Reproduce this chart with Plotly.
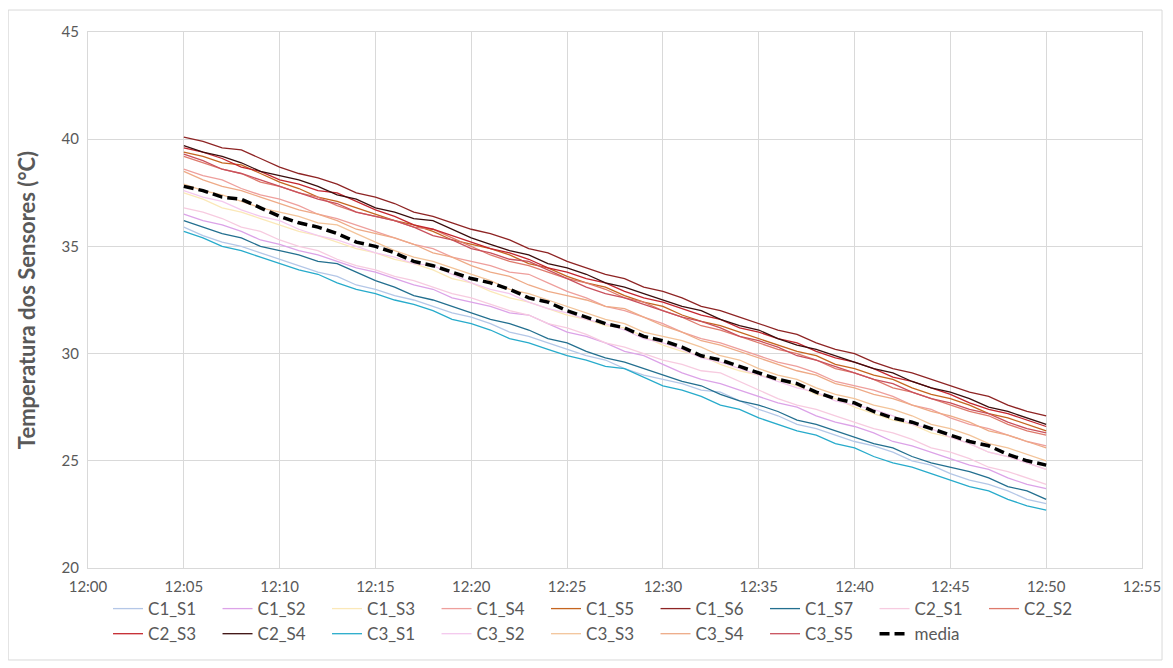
import pandas as pd
import plotly.graph_objects as go

# ---- data -------------------------------------------------------------
times = pd.date_range("2024-01-01 12:05", periods=46, freq="min")

C1_S1 = [35.9, 35.5, 35.2, 35.0, 34.7, 34.4, 34.1, 33.8, 33.6, 33.2, 33.0, 32.7, 32.5, 32.2, 31.9, 31.7,
         31.4, 31.0, 30.8, 30.5, 30.2, 29.9, 29.7, 29.3, 29.0, 28.8, 28.6, 28.3, 28.2, 27.8, 27.4, 27.1,
         26.7, 26.5, 26.2, 25.9, 25.7, 25.4, 25.0, 24.8, 24.4, 24.1, 23.9, 23.6, 23.2, 23.0]
C1_S2 = [36.5, 36.2, 36.0, 35.7, 35.3, 35.1, 34.8, 34.6, 34.3, 34.0, 33.8, 33.5, 33.2, 33.0, 32.6, 32.4,
         32.2, 31.9, 31.8, 31.4, 31.0, 30.8, 30.5, 30.1, 29.9, 29.5, 29.1, 28.8, 28.6, 28.3, 28.0, 27.7,
         27.5, 27.1, 26.8, 26.6, 26.3, 25.9, 25.7, 25.4, 25.1, 24.8, 24.6, 24.2, 23.9, 23.7]
C1_S3 = [37.5, 37.2, 36.8, 36.6, 36.3, 36.0, 35.7, 35.5, 35.2, 34.9, 34.7, 34.4, 34.2, 33.9, 33.5, 33.3,
         32.9, 32.6, 32.4, 32.1, 31.8, 31.6, 31.3, 31.2, 30.8, 30.4, 30.1, 29.9, 29.5, 29.2, 29.0, 28.8,
         28.5, 28.1, 27.9, 27.5, 27.2, 26.9, 26.7, 26.3, 26.1, 25.8, 25.4, 25.2, 24.9, 24.6]
C1_S4 = [38.6, 38.3, 38.1, 37.7, 37.4, 37.2, 36.9, 36.5, 36.3, 36.0, 35.7, 35.4, 35.1, 34.9, 34.5, 34.3,
         34.1, 33.8, 33.7, 33.3, 32.9, 32.6, 32.2, 32.0, 31.7, 31.4, 31.0, 30.7, 30.5, 30.2, 29.9, 29.6,
         29.4, 29.1, 28.7, 28.5, 28.3, 28.0, 27.6, 27.4, 27.0, 26.7, 26.5, 26.2, 25.9, 25.7]
C1_S5 = [39.4, 39.2, 38.9, 38.8, 38.4, 38.0, 37.7, 37.3, 37.1, 36.8, 36.5, 36.2, 36.0, 35.7, 35.3, 35.1,
         34.9, 34.6, 34.2, 34.0, 33.6, 33.3, 33.1, 32.7, 32.4, 32.2, 31.8, 31.5, 31.3, 31.0, 30.7, 30.4,
         30.1, 29.9, 29.5, 29.3, 29.0, 28.8, 28.4, 28.1, 27.9, 27.6, 27.2, 27.0, 26.7, 26.4]
C1_S6 = [40.1, 39.9, 39.6, 39.5, 39.1, 38.7, 38.4, 38.2, 37.9, 37.5, 37.3, 37.0, 36.6, 36.4, 36.1, 35.8,
         35.6, 35.3, 34.9, 34.7, 34.3, 34.0, 33.7, 33.5, 33.1, 32.9, 32.6, 32.2, 32.0, 31.7, 31.4, 31.1,
         30.9, 30.5, 30.2, 30.0, 29.6, 29.3, 29.1, 28.8, 28.5, 28.2, 28.0, 27.6, 27.3, 27.1]
C1_S7 = [36.2, 35.9, 35.6, 35.4, 35.0, 34.8, 34.6, 34.3, 34.2, 33.8, 33.4, 33.1, 32.7, 32.5, 32.2, 31.9,
         31.6, 31.4, 31.1, 30.7, 30.5, 30.1, 29.8, 29.6, 29.3, 29.0, 28.7, 28.5, 28.1, 27.8, 27.6, 27.3,
         26.9, 26.7, 26.4, 26.1, 25.8, 25.6, 25.2, 24.9, 24.7, 24.5, 24.2, 23.8, 23.6, 23.2]
C2_S1 = [36.8, 36.6, 36.3, 35.9, 35.7, 35.3, 35.0, 34.8, 34.4, 34.1, 33.9, 33.6, 33.4, 33.1, 32.8, 32.6,
         32.3, 32.0, 31.8, 31.4, 31.2, 30.9, 30.5, 30.3, 30.0, 29.7, 29.5, 29.2, 29.1, 28.7, 28.3, 27.9,
         27.6, 27.4, 27.1, 26.8, 26.5, 26.3, 26.0, 25.6, 25.4, 25.1, 24.7, 24.5, 24.2, 23.9]
C2_S2 = [39.2, 38.9, 38.6, 38.4, 38.0, 37.8, 37.5, 37.3, 36.9, 36.6, 36.4, 36.2, 35.9, 35.8, 35.4, 35.0,
         34.6, 34.3, 34.1, 33.8, 33.5, 33.3, 33.0, 32.6, 32.4, 32.0, 31.7, 31.3, 31.1, 30.8, 30.5, 30.2,
         30.0, 29.7, 29.3, 29.1, 28.8, 28.4, 28.2, 27.9, 27.6, 27.3, 27.1, 26.7, 26.4, 26.2]
C2_S3 = [39.6, 39.4, 39.1, 38.7, 38.5, 38.1, 37.9, 37.6, 37.5, 37.1, 36.7, 36.4, 36.0, 35.8, 35.5, 35.2,
         34.9, 34.7, 34.4, 34.0, 33.8, 33.5, 33.3, 32.9, 32.6, 32.4, 32.1, 31.8, 31.6, 31.2, 31.0, 30.7,
         30.5, 30.1, 29.8, 29.6, 29.3, 28.9, 28.7, 28.4, 28.1, 27.7, 27.4, 27.2, 26.9, 26.6]
C2_S4 = [39.7, 39.4, 39.2, 38.9, 38.5, 38.3, 38.1, 37.8, 37.4, 37.2, 36.8, 36.6, 36.3, 36.2, 35.8, 35.4,
         35.1, 34.8, 34.6, 34.2, 34.0, 33.7, 33.3, 33.1, 32.8, 32.5, 32.2, 32.0, 31.6, 31.3, 31.1, 30.7,
         30.4, 30.2, 29.9, 29.6, 29.3, 29.1, 28.7, 28.4, 28.2, 27.9, 27.5, 27.3, 27.0, 26.7]
C3_S1 = [35.7, 35.4, 35.0, 34.8, 34.5, 34.2, 33.9, 33.7, 33.3, 33.0, 32.8, 32.5, 32.3, 32.0, 31.6, 31.4,
         31.1, 30.7, 30.5, 30.2, 29.9, 29.7, 29.4, 29.3, 28.9, 28.5, 28.3, 28.0, 27.6, 27.4, 27.0, 26.7,
         26.4, 26.2, 25.8, 25.6, 25.2, 24.9, 24.7, 24.4, 24.1, 23.8, 23.6, 23.2, 22.9, 22.7]
C3_S2 = [37.6, 37.3, 37.1, 36.7, 36.4, 36.2, 35.8, 35.5, 35.3, 35.0, 34.7, 34.5, 34.2, 34.1, 33.7, 33.3,
         33.0, 32.8, 32.4, 32.1, 31.9, 31.6, 31.4, 31.1, 30.7, 30.5, 30.2, 29.8, 29.6, 29.3, 29.0, 28.7,
         28.4, 28.2, 27.8, 27.6, 27.4, 27.1, 26.7, 26.5, 26.1, 25.8, 25.4, 25.2, 24.9, 24.6]
C3_S3 = [37.9, 37.6, 37.4, 37.1, 36.8, 36.6, 36.4, 36.1, 36.0, 35.6, 35.2, 34.8, 34.5, 34.3, 34.0, 33.7,
         33.4, 33.0, 32.8, 32.5, 32.2, 31.9, 31.6, 31.4, 31.0, 30.8, 30.6, 30.3, 29.9, 29.7, 29.3, 29.0,
         28.8, 28.4, 28.1, 27.9, 27.6, 27.4, 27.1, 26.7, 26.5, 26.2, 25.8, 25.6, 25.3, 25.0]
C3_S4 = [38.5, 38.1, 37.8, 37.6, 37.3, 37.0, 36.7, 36.5, 36.2, 35.8, 35.6, 35.4, 35.1, 34.7, 34.5, 34.1,
         33.8, 33.6, 33.2, 32.9, 32.7, 32.5, 32.2, 32.1, 31.7, 31.3, 31.0, 30.6, 30.4, 30.1, 29.8, 29.5,
         29.2, 29.0, 28.6, 28.4, 28.1, 27.9, 27.6, 27.3, 27.1, 26.8, 26.4, 26.2, 25.9, 25.6]
C3_S5 = [39.3, 39.0, 38.6, 38.4, 38.1, 37.8, 37.5, 37.2, 37.0, 36.6, 36.4, 36.2, 35.9, 35.5, 35.3, 34.9,
         34.7, 34.4, 34.3, 33.9, 33.5, 33.1, 32.8, 32.6, 32.3, 32.0, 31.7, 31.5, 31.2, 30.8, 30.6, 30.3,
         29.9, 29.7, 29.4, 29.1, 28.8, 28.6, 28.2, 27.9, 27.7, 27.4, 27.2, 26.8, 26.5, 26.3]
media = [37.8, 37.6, 37.3, 37.2, 36.8, 36.4, 36.1, 35.9, 35.6, 35.2, 35.0, 34.7, 34.3, 34.1, 33.8, 33.5,
         33.3, 33.0, 32.6, 32.4, 32.0, 31.7, 31.4, 31.2, 30.8, 30.6, 30.3, 29.9, 29.7, 29.4, 29.1, 28.8,
         28.6, 28.2, 27.9, 27.7, 27.3, 27.0, 26.8, 26.5, 26.2, 25.9, 25.7, 25.3, 25.0, 24.8]

series_names = ["C1_S1", "C1_S2", "C1_S3", "C1_S4", "C1_S5", "C1_S6", "C1_S7", "C2_S1", "C2_S2",
                "C2_S3", "C2_S4", "C3_S1", "C3_S2", "C3_S3", "C3_S4", "C3_S5"]
series_values = [C1_S1, C1_S2, C1_S3, C1_S4, C1_S5, C1_S6, C1_S7, C2_S1, C2_S2,
                 C2_S3, C2_S4, C3_S1, C3_S2, C3_S3, C3_S4, C3_S5]
series_colors = ["#b4c7e7", "#dca3e8", "#fbe8b8", "#ee9f9c", "#c5651f", "#8e2424", "#236f8f",
                 "#f7cbe0", "#de7a6c", "#c4262e", "#3a0d0d", "#27abcb", "#f4c8ee", "#f3c49a",
                 "#eeaa86", "#c9505c"]

FONT = "Lato"
GRID = "#d9d9d9"
TXT = "#595959"

fig = go.Figure()
for name, vals, col in zip(series_names, series_values, series_colors):
    fig.add_trace(go.Scatter(
        x=times, y=vals, name=name, mode="lines",
        line=dict(color=col, width=1.3),
    ))
fig.add_trace(go.Scatter(
    x=times, y=media, name="media", mode="lines",
    line=dict(color="black", width=3.5, dash="10px,5px"),
))

fig.update_layout(
    width=1165, height=660,
    paper_bgcolor="white", plot_bgcolor="white",
    margin=dict(l=80, r=20, t=24, b=100),
    font=dict(family=FONT, color=TXT, size=15),
    showlegend=True,
    legend=dict(
        orientation="h", xanchor="left", yanchor="top",
        x=0.019, y=-0.043,
        font=dict(family=FONT, size=17, color=TXT),
        entrywidth=64.5, entrywidthmode="pixels",
        bgcolor="rgba(0,0,0,0)", traceorder="normal",
    ),
    xaxis=dict(
        type="date",
        range=["2024-01-01 12:00", "2024-01-01 12:55"],
        dtick=300000, tick0="2024-01-01 12:00", tickformat="%H:%M",
        showgrid=True, gridcolor=GRID, gridwidth=1,
        showline=True, linecolor=GRID, linewidth=1, mirror=True,
        zeroline=False, ticks="", ticklabelstandoff=5,
        tickfont=dict(family=FONT, size=15, color=TXT),
    ),
    yaxis=dict(
        range=[20, 45], dtick=5,
        showgrid=True, gridcolor=GRID, gridwidth=1,
        showline=True, linecolor=GRID, linewidth=1, mirror=True,
        zeroline=False, ticks="", ticklabelstandoff=5,
        tickfont=dict(family=FONT, size=15, color=TXT),
        title=dict(text="<b>Temperatura dos Sensores (°C)</b>",
                   font=dict(family=FONT, size=22, color=TXT), standoff=19),
    ),
    shapes=[dict(type="rect", xref="paper", yref="paper",
                 x0=-0.0757, x1=1.019, y0=-0.1716, y1=1.041,
                 line=dict(color="#d9d9d9", width=1), fillcolor="rgba(0,0,0,0)",
                 layer="below")],
)

fig.write_html("out.html")
